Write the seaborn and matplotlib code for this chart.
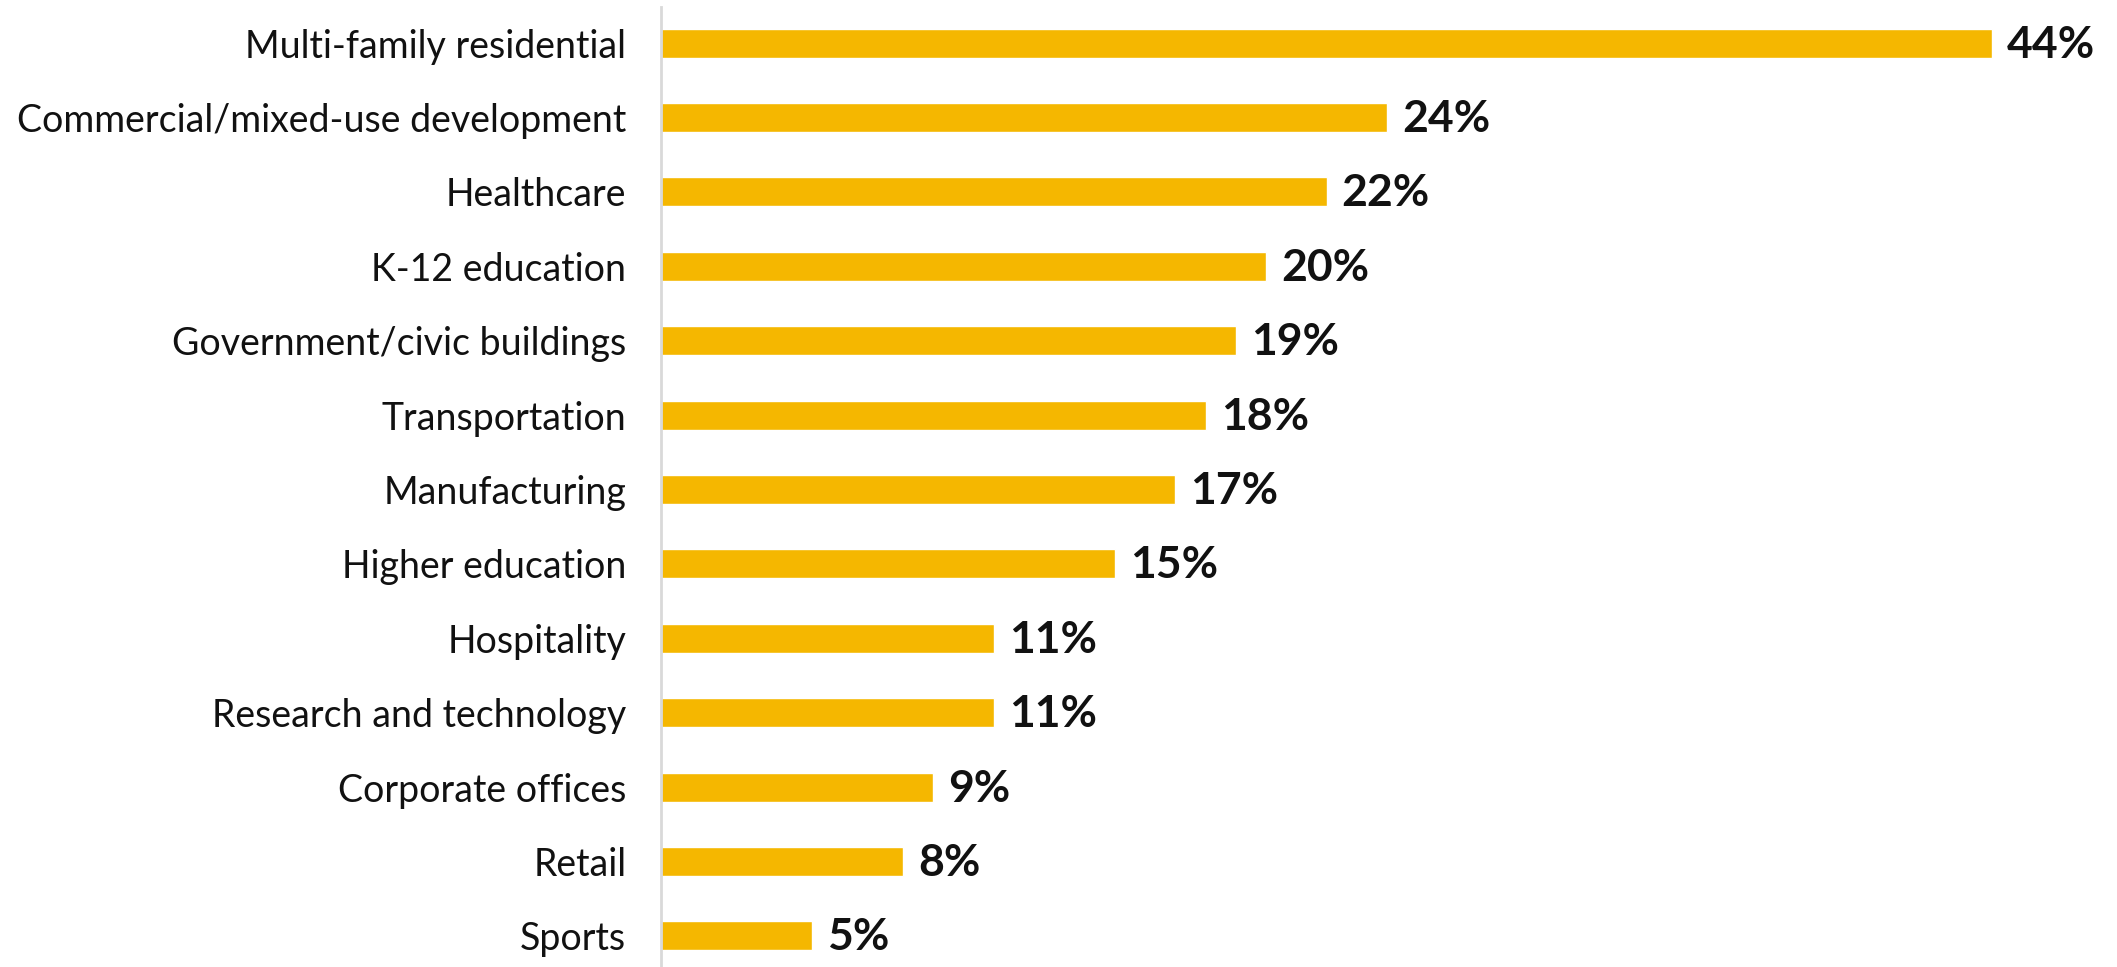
import matplotlib
matplotlib.use("Agg")
import matplotlib.pyplot as plt
import seaborn as sns
import pandas as pd

categories = [
    "Multi-family residential",
    "Commercial/mixed-use development",
    "Healthcare",
    "K-12 education",
    "Government/civic buildings",
    "Transportation",
    "Manufacturing",
    "Higher education",
    "Hospitality",
    "Research and technology",
    "Corporate offices",
    "Retail",
    "Sports",
]
shares = [44, 24, 22, 20, 19, 18, 17, 15, 11, 11, 9, 8, 5]

sns.set_theme(style="white")
plt.rcParams["font.family"] = ["Lato", "DejaVu Sans"]

df = pd.DataFrame({"sector": categories, "share": shares})

W, H = 2117, 967
fig = plt.figure(figsize=(W / 100, H / 100), dpi=100)
ax = fig.add_axes([661 / W, 0.0, (W - 661 - 4) / W, 1 - 7 / H])

sns.barplot(data=df, x="share", y="sector", orient="h", color="#F5B700",
            saturation=1, width=0.39, ax=ax)

ax.set_xlim(0, 48 * (W - 661 - 4) / 1452)
ax.set_ylim(12.417, -0.484)

for i, v in enumerate(shares):
    ax.text(v + 0.5, i + 0.02, f"{v}%", va="center", ha="left", fontsize=32,
            fontweight="bold", color="#111111", clip_on=False)

ax.set_xlabel("")
ax.set_ylabel("")
ax.set_xticks([])
ax.tick_params(axis="y", length=0, pad=25, labelsize=27, labelcolor="#111111")
for side in ["top", "right", "bottom"]:
    ax.spines[side].set_visible(False)
ax.spines["left"].set_color("#D9D9D9")
ax.spines["left"].set_linewidth(2)

fig.savefig("out.png", dpi=100)
